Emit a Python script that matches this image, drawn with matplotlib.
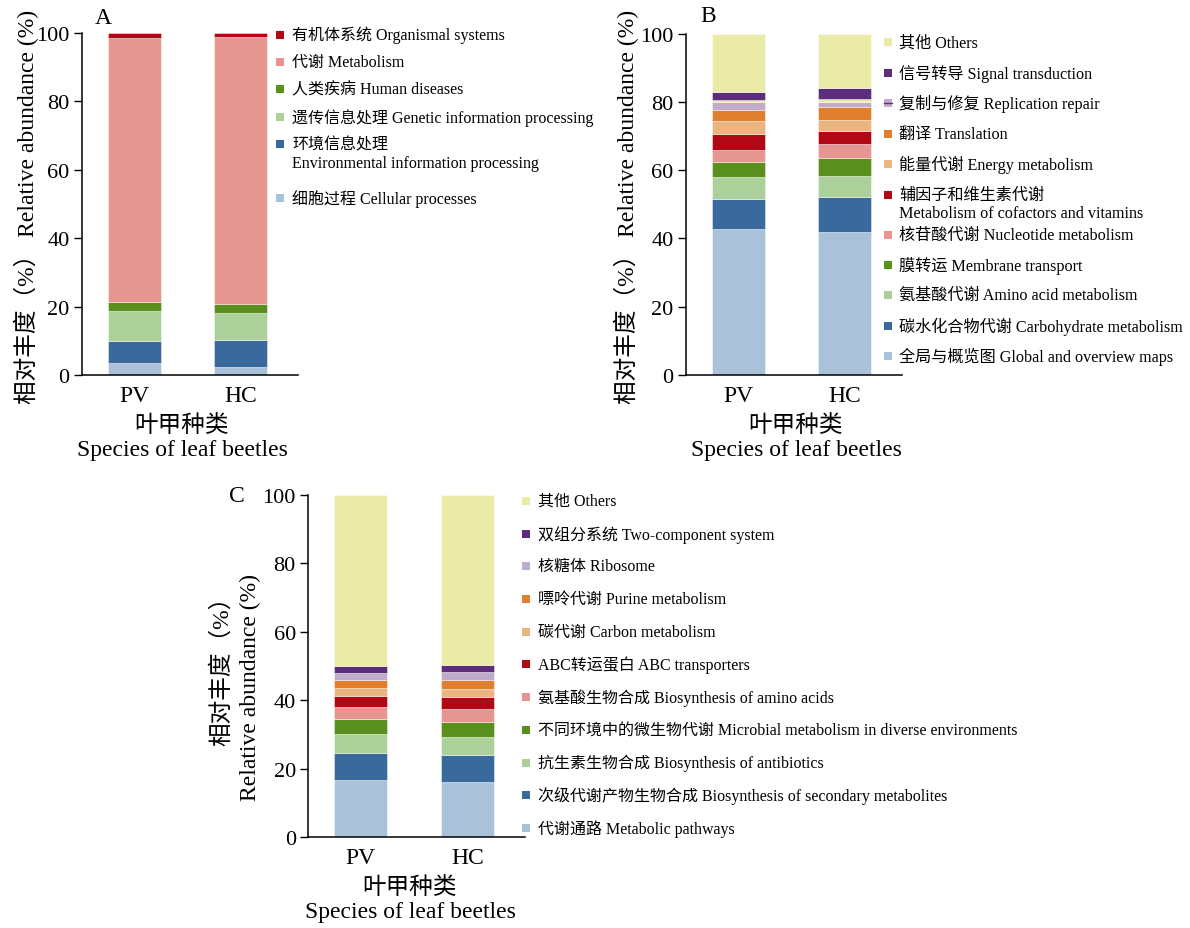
import matplotlib
matplotlib.use('Agg')
import matplotlib.pyplot as plt
from matplotlib.patches import Rectangle
import numpy as np

plt.rcParams['font.family'] = ['Liberation Serif', 'Noto Sans CJK SC']

W, H = 1190, 929

species = ['PV', 'HC']

# ---- panel A (KEGG level 1), bottom -> top
a_labels = ['细胞过程 Cellular processes',
            '环境信息处理\nEnvironmental information processing',
            '遗传信息处理 Genetic information processing',
            '人类疾病 Human diseases',
            '代谢 Metabolism',
            '有机体系统 Organismal systems']
a_pv = [3.4, 6.6, 8.8, 2.6, 77.2, 1.4]
a_hc = [2.4, 7.7, 7.9, 2.7, 78.1, 1.2]

# ---- panel B (KEGG level 2), bottom -> top ('' = unlabeled thin band)
b_labels = ['全局与概览图 Global and overview maps',
            '碳水化合物代谢 Carbohydrate metabolism',
            '氨基酸代谢 Amino acid metabolism',
            '膜转运 Membrane transport',
            '核苷酸代谢 Nucleotide metabolism',
            '辅因子和维生素代谢\nMetabolism of cofactors and vitamins',
            '能量代谢 Energy metabolism',
            '翻译 Translation',
            '复制与修复 Replication repair',
            '',
            '信号转导 Signal transduction',
            '其他 Others']
b_pv = [42.7, 8.9, 6.5, 4.3, 3.6, 4.5, 3.8, 3.2, 2.6, 0.6, 2.3, 17.0]
b_hc = [41.8, 10.4, 6.1, 5.3, 4.1, 3.7, 3.4, 3.6, 1.7, 0.8, 3.3, 15.8]

# ---- panel C (KEGG level 3), bottom -> top
c_labels = ['代谢通路 Metabolic pathways',
            '次级代谢产物生物合成 Biosynthesis of secondary metabolites',
            '抗生素生物合成 Biosynthesis of antibiotics',
            '不同环境中的微生物代谢 Microbial metabolism in diverse environments',
            '氨基酸生物合成 Biosynthesis of amino acids',
            'ABC转运蛋白 ABC transporters',
            '碳代谢 Carbon metabolism',
            '嘌呤代谢 Purine metabolism',
            '核糖体 Ribosome',
            '双组分系统 Two-component system',
            '其他 Others']
c_pv = [16.7, 8.0, 5.5, 4.4, 3.6, 3.1, 2.4, 2.3, 2.1, 1.9, 50.0]
c_hc = [16.3, 7.7, 5.4, 4.3, 3.8, 3.5, 2.4, 2.6, 2.3, 2.1, 49.6]

# colours
LBLUE = '#a9c2d9'
DBLUE = '#3a6a9c'
LGREEN = '#acd09a'
GREEN = '#5a8f1e'
PINK = '#e59690'
RED = '#b00815'
LORANGE = '#eab57e'
ORANGE = '#e0802e'
LPURPLE = '#c1abcb'
DPURPLE = '#5c2d7c'
YELLOW = '#e9eba6'

a_colors = [LBLUE, DBLUE, LGREEN, GREEN, PINK, RED]
b_colors = [LBLUE, DBLUE, LGREEN, GREEN, PINK, RED, LORANGE, ORANGE, LPURPLE, YELLOW, DPURPLE, YELLOW]
c_colors = [LBLUE, DBLUE, LGREEN, GREEN, PINK, RED, LORANGE, ORANGE, LPURPLE, DPURPLE, YELLOW]


def px(x, y):
    return x / W, 1 - y / H


def add_axes(fig, left, top, right, bottom):
    x0, y0 = px(left, bottom)
    return fig.add_axes([x0, y0, (right - left) / W, (bottom - top) / H])


def draw_stack(ax, pv, hc, colors):
    x = np.arange(len(species))
    bottom = np.zeros(len(species))
    for v1, v2, c in zip(pv, hc, colors):
        vals = np.array([v1, v2])
        ax.bar(x, vals, bottom=bottom, width=0.5, color=c,
               edgecolor=(1, 1, 1, 0.5), linewidth=0.6)
        bottom += vals
    ax.set_xlim(-0.49, 1.54)
    ax.set_ylim(0, 100)
    for s in ['top', 'right']:
        ax.spines[s].set_visible(False)
    for s in ['left', 'bottom']:
        ax.spines[s].set_linewidth(1.1)
    ax.set_yticks(range(0, 101, 20))
    ax.set_xticks(x)
    ax.set_xticklabels(species)
    ax.tick_params(axis='x', length=0, pad=7, labelsize=17)
    ax.tick_params(axis='y', direction='out', length=6, width=1, pad=3, labelsize=16)


def draw_legend(fig, x_sq, x_txt, rows, labels, colors, size=11.5):
    for y, lab, c in zip(rows, labels, colors):
        if not lab:
            continue
        lines = lab.split('\n')
        fig.add_artist(Rectangle(px(x_sq - 4, y + 4), 8 / W, 8 / H,
                                 transform=fig.transFigure, color=c, lw=0))
        fig.text(*px(x_txt, y), lines[0], fontsize=size, va='center', ha='left')
        if len(lines) > 1:
            fig.text(*px(x_txt, y + 18.5), lines[1], fontsize=size, va='center', ha='left')


fig = plt.figure(figsize=(W / 100, H / 100), dpi=100)

ylab = '相对丰度（%） Relative abundance (%)'
xlab = '叶甲种类\nSpecies of leaf beetles'

# A
axA = add_axes(fig, 82, 34, 298, 376)
draw_stack(axA, a_pv, a_hc, a_colors)
fig.text(*px(103, 18), 'A', fontsize=17, ha='center', va='center')
fig.text(*px(26, 207), ylab, fontsize=17, rotation=90, ha='center', va='center')
fig.text(*px(182, 438), xlab, fontsize=17, ha='center', va='center', linespacing=1.2)
draw_legend(fig, 280, 292, [199, 145, 117.7, 90, 63, 35.7], a_labels, a_colors)

# B
axB = add_axes(fig, 686, 34.7, 902, 376)
draw_stack(axB, b_pv, b_hc, b_colors)
fig.text(*px(708, 16), 'B', fontsize=17, ha='center', va='center')
fig.text(*px(626, 207), ylab, fontsize=17, rotation=90, ha='center', va='center')
fig.text(*px(796, 438), xlab, fontsize=17, ha='center', va='center', linespacing=1.2)
b_rows = [356.7, 326.7, 296, 266.3, 236.3, 196, 165, 134.7, 104.3, 0, 74, 43.3]
draw_legend(fig, 888, 899, b_rows, b_labels, b_colors, size=11.6)
# dark line across the replication swatch, as in the original key
fig.add_artist(plt.Line2D([px(884, 0)[0], px(892, 0)[0]], [px(0, 104.3)[1]] * 2,
                          transform=fig.transFigure, color=DPURPLE, lw=1))

# C
axC = add_axes(fig, 308.3, 496, 525, 838.3)
draw_stack(axC, c_pv, c_hc, c_colors)
fig.text(*px(237, 497), 'C', fontsize=17, ha='center', va='center')
fig.text(*px(222, 665), '相对丰度（%）', fontsize=17, rotation=90, ha='center', va='center')
fig.text(*px(250, 688), 'Relative abundance (%)', fontsize=17, rotation=90, ha='center', va='center')
fig.text(*px(410, 900), xlab, fontsize=17, ha='center', va='center', linespacing=1.2)
c_rows = [829, 796.3, 763.7, 731, 698, 665.3, 632.7, 600, 567.3, 535, 501.7]
draw_legend(fig, 526, 538, c_rows, c_labels, c_colors)

fig.savefig('out.png', dpi=100)
